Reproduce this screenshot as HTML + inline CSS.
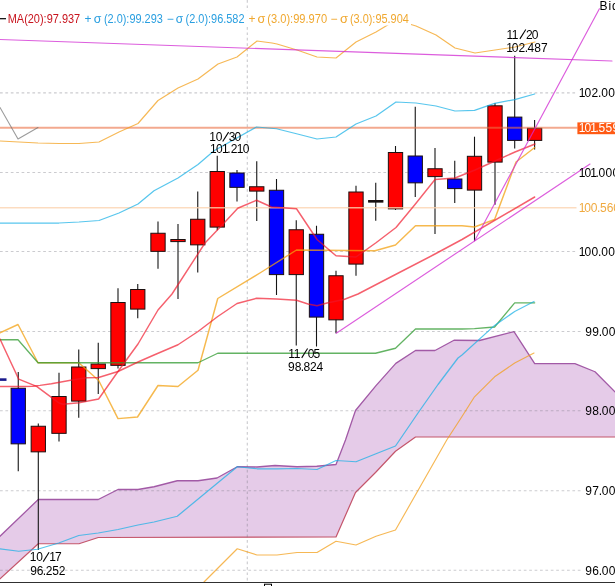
<!DOCTYPE html>
<html><head><meta charset="utf-8"><title>chart</title>
<style>
html,body{margin:0;padding:0;background:#fff;}
body{width:615px;height:586px;overflow:hidden;}
svg{display:block;will-change:transform;}
text{font-family:"Liberation Sans",sans-serif;font-size:12px;}
.ln{fill:none;stroke-linejoin:round;stroke-linecap:round;}
</style></head><body>
<svg width="615" height="586" viewBox="0 0 615 586">
<rect x="0" y="0" width="615" height="586" fill="#ffffff"/>
<polygon points="0.00,536.25 38.25,499.50 98.25,499.50 118.00,489.50 138.00,489.50 154.00,486.75 177.25,480.75 198.00,480.75 217.00,478.00 237.25,466.75 257.00,467.00 275.00,465.50 297.00,466.75 316.75,466.25 336.00,464.50 345.50,440.00 355.50,410.50 376.00,385.60 395.80,363.40 415.50,350.50 435.00,350.50 454.00,340.25 479.50,340.50 514.00,331.60 534.70,363.70 574.90,363.70 595.00,371.75 616.00,392.80 616.00,437.00 415.50,437.00 395.50,451.25 375.50,472.50 355.50,492.50 336.00,537.00 98.25,537.50 79.00,543.75 38.25,543.75 0.00,578.75" fill="#c58ccb" fill-opacity="0.45" stroke="none"/>
<polyline class="ln" points="0.00,578.75 38.25,543.75 79.00,543.75 98.25,537.50 336.00,537.00 355.50,492.50 375.50,472.50 395.50,451.25 415.50,437.00 616.00,437.00" stroke="#c4566b" stroke-width="1.2"/>
<polyline class="ln" points="0.00,536.25 38.25,499.50 98.25,499.50 118.00,489.50 138.00,489.50 154.00,486.75 177.25,480.75 198.00,480.75 217.00,478.00 237.25,466.75 257.00,467.00 275.00,465.50 297.00,466.75 316.75,466.25 336.00,464.50 345.50,440.00 355.50,410.50 376.00,385.60 395.80,363.40 415.50,350.50 435.00,350.50 454.00,340.25 479.50,340.50 514.00,331.60 534.70,363.70 574.90,363.70 595.00,371.75 616.00,392.80" stroke="#a25aa6" stroke-width="1.3"/>
<g stroke="#70707a" stroke-opacity="0.36" stroke-width="1.15" stroke-dasharray="2.7 2.7" fill="none">
<line x1="0" y1="92.8" x2="576.5" y2="92.8"/>
<line x1="0" y1="172.5" x2="576.5" y2="172.5"/>
<line x1="0" y1="251.5" x2="576.5" y2="251.5"/>
<line x1="0" y1="331.5" x2="581.5" y2="331.5"/>
<line x1="0" y1="410.75" x2="581.5" y2="410.75"/>
<line x1="0" y1="490.75" x2="581.5" y2="490.75"/>
<line x1="0" y1="570.25" x2="581.5" y2="570.25"/>
<line x1="247.3" y1="0" x2="247.3" y2="583"/>
</g>
<rect x="-9" y="378.3" width="15.5" height="2.6" fill="#1a1a8c"/>
<line x1="18.25" y1="372" x2="18.25" y2="471.25" stroke="#151515" stroke-width="1.1"/>
<rect x="11.10" y="388.25" width="14.30" height="55.60" fill="#0000ff" stroke="#1c1010" stroke-width="1"/>
<line x1="38.3" y1="423.5" x2="38.3" y2="550" stroke="#151515" stroke-width="1.1"/>
<rect x="31.15" y="426.25" width="14.30" height="25.60" fill="#ff0000" stroke="#1c1010" stroke-width="1"/>
<line x1="59" y1="372.75" x2="59" y2="441.5" stroke="#151515" stroke-width="1.1"/>
<rect x="51.85" y="396.50" width="14.30" height="36.85" fill="#ff0000" stroke="#1c1010" stroke-width="1"/>
<line x1="78.75" y1="349.5" x2="78.75" y2="417.75" stroke="#151515" stroke-width="1.1"/>
<rect x="71.60" y="367.00" width="14.30" height="34.10" fill="#ff0000" stroke="#1c1010" stroke-width="1"/>
<line x1="98.25" y1="342.75" x2="98.25" y2="394" stroke="#151515" stroke-width="1.1"/>
<rect x="91.10" y="364.00" width="14.30" height="4.60" fill="#ff0000" stroke="#1c1010" stroke-width="1"/>
<line x1="118" y1="288.25" x2="118" y2="368.5" stroke="#151515" stroke-width="1.1"/>
<rect x="110.85" y="302.50" width="14.30" height="62.85" fill="#ff0000" stroke="#1c1010" stroke-width="1"/>
<line x1="137.75" y1="284" x2="137.75" y2="318.25" stroke="#151515" stroke-width="1.1"/>
<rect x="130.60" y="289.50" width="14.30" height="19.60" fill="#ff0000" stroke="#1c1010" stroke-width="1"/>
<line x1="158" y1="221.5" x2="158" y2="268.75" stroke="#151515" stroke-width="1.1"/>
<rect x="150.85" y="233.25" width="14.30" height="18.10" fill="#ff0000" stroke="#1c1010" stroke-width="1"/>
<line x1="178" y1="224" x2="178" y2="299" stroke="#151515" stroke-width="1.1"/>
<rect x="170.85" y="239.50" width="14.30" height="2.10" fill="#ff0000" stroke="#1c1010" stroke-width="1"/>
<line x1="197.75" y1="191.5" x2="197.75" y2="272.5" stroke="#151515" stroke-width="1.1"/>
<rect x="190.60" y="219.25" width="14.30" height="25.60" fill="#ff0000" stroke="#1c1010" stroke-width="1"/>
<line x1="217.25" y1="155.75" x2="217.25" y2="230.25" stroke="#151515" stroke-width="1.1"/>
<rect x="210.10" y="171.50" width="14.30" height="55.60" fill="#ff0000" stroke="#1c1010" stroke-width="1"/>
<line x1="237" y1="170" x2="237" y2="201.5" stroke="#151515" stroke-width="1.1"/>
<rect x="229.85" y="173.00" width="14.30" height="14.35" fill="#0000ff" stroke="#1c1010" stroke-width="1"/>
<line x1="256.75" y1="161.25" x2="256.75" y2="221" stroke="#151515" stroke-width="1.1"/>
<rect x="249.60" y="186.75" width="14.30" height="4.35" fill="#ff0000" stroke="#1c1010" stroke-width="1"/>
<line x1="276.5" y1="179" x2="276.5" y2="295" stroke="#151515" stroke-width="1.1"/>
<rect x="269.35" y="190.25" width="14.30" height="84.35" fill="#0000ff" stroke="#1c1010" stroke-width="1"/>
<line x1="296.25" y1="220.25" x2="296.25" y2="345.4" stroke="#151515" stroke-width="1.1"/>
<rect x="289.10" y="229.75" width="14.30" height="44.85" fill="#ff0000" stroke="#1c1010" stroke-width="1"/>
<line x1="316.5" y1="225.75" x2="316.5" y2="346.5" stroke="#151515" stroke-width="1.1"/>
<rect x="309.35" y="234.25" width="14.30" height="82.85" fill="#0000ff" stroke="#1c1010" stroke-width="1"/>
<line x1="336" y1="270.75" x2="336" y2="333.25" stroke="#151515" stroke-width="1.1"/>
<rect x="328.85" y="275.75" width="14.30" height="44.10" fill="#ff0000" stroke="#1c1010" stroke-width="1"/>
<line x1="356" y1="185.75" x2="356" y2="275.75" stroke="#151515" stroke-width="1.1"/>
<rect x="348.85" y="192.00" width="14.30" height="72.10" fill="#ff0000" stroke="#1c1010" stroke-width="1"/>
<line x1="375.75" y1="182.75" x2="375.75" y2="220.75" stroke="#151515" stroke-width="1.1"/>
<rect x="368.60" y="200.50" width="14.30" height="1.60" fill="#101010" stroke="#1c1010" stroke-width="1"/>
<line x1="395.5" y1="146" x2="395.5" y2="210" stroke="#151515" stroke-width="1.1"/>
<rect x="388.35" y="152.50" width="14.30" height="56.35" fill="#ff0000" stroke="#1c1010" stroke-width="1"/>
<line x1="415.25" y1="106.75" x2="415.25" y2="197" stroke="#151515" stroke-width="1.1"/>
<rect x="408.10" y="156.00" width="14.30" height="26.85" fill="#0000ff" stroke="#1c1010" stroke-width="1"/>
<line x1="435" y1="148" x2="435" y2="234" stroke="#151515" stroke-width="1.1"/>
<rect x="427.85" y="168.75" width="14.30" height="7.85" fill="#ff0000" stroke="#1c1010" stroke-width="1"/>
<line x1="454.75" y1="160.75" x2="454.75" y2="203" stroke="#151515" stroke-width="1.1"/>
<rect x="447.60" y="179.00" width="14.30" height="9.60" fill="#0000ff" stroke="#1c1010" stroke-width="1"/>
<line x1="474.5" y1="136.7" x2="474.5" y2="241" stroke="#151515" stroke-width="1.1"/>
<rect x="467.35" y="156.30" width="14.30" height="33.80" fill="#ff0000" stroke="#1c1010" stroke-width="1"/>
<line x1="495" y1="103" x2="495" y2="204.7" stroke="#151515" stroke-width="1.1"/>
<rect x="487.85" y="105.80" width="14.30" height="56.30" fill="#ff0000" stroke="#1c1010" stroke-width="1"/>
<line x1="514.7" y1="55.7" x2="514.7" y2="148.5" stroke="#151515" stroke-width="1.1"/>
<rect x="507.55" y="117.10" width="14.30" height="23.30" fill="#0000ff" stroke="#1c1010" stroke-width="1"/>
<line x1="534.6" y1="120" x2="534.6" y2="149.6" stroke="#151515" stroke-width="1.1"/>
<rect x="527.45" y="128.30" width="14.30" height="12.10" fill="#ff0000" stroke="#1c1010" stroke-width="1"/>
<line x1="0" y1="207.75" x2="576.5" y2="207.75" stroke="#fbd3b0" stroke-opacity="0.8" stroke-width="1.3"/>
<line x1="0" y1="127.7" x2="577.5" y2="127.7" stroke="#eb7044" stroke-opacity="0.6" stroke-width="2"/>
<polyline class="ln" points="0.00,107.50 18.00,139.00 38.00,127.50" stroke="#707070" stroke-opacity="0.7" stroke-width="1.1"/>
<polyline class="ln" points="204.00,582.00 237.25,548.75 257.00,555.00 277.00,555.00 297.00,552.50 317.00,552.50 336.00,541.25 356.00,545.00 376.00,536.25 395.50,530.00 446.75,440.00 462.00,416.50 474.50,396.80 494.60,376.80 514.70,363.00 534.00,353.00" stroke="#f39c14" stroke-opacity="0.72" stroke-width="1.15"/>
<polyline class="ln" points="0.00,141.00 19.00,142.00 38.00,143.00 59.00,143.50 79.00,143.50 99.00,142.00 119.00,132.00 138.00,123.50 158.00,100.50 178.00,88.00 198.00,79.00 218.00,64.00 237.00,57.00 247.00,49.00 257.00,41.00 272.00,43.00 277.00,44.00 297.00,50.00 317.00,57.00 336.00,58.00 356.00,42.00 376.00,32.00 396.00,20.00 416.00,26.00 436.00,35.00 455.00,48.00 475.00,53.00 495.00,50.00 515.00,47.00 535.00,42.00" stroke="#f39c14" stroke-opacity="0.72" stroke-width="1.15"/>
<polyline class="ln" points="0.00,332.75 18.00,324.50 38.00,362.75 78.75,362.75 98.70,380.50 118.00,418.60 137.50,417.00 158.00,385.50 178.00,386.50 198.00,370.25 217.75,298.50 261.50,272.00 296.50,250.00 375.00,250.75 395.50,245.00 415.50,225.75 462.00,225.75 474.50,227.00 494.60,219.50 516.00,162.00 534.70,147.50" stroke="#f3a010" stroke-opacity="0.74" stroke-width="1.45"/>
<polyline class="ln" points="0.00,339.75 18.00,339.75 38.00,362.75 198.00,362.75 217.75,353.25 375.50,353.25 395.50,348.25 415.50,329.00 462.00,329.00 474.50,328.60 494.60,327.00 514.70,302.80 534.70,302.80" stroke="#2f9a2f" stroke-opacity="0.75" stroke-width="1.3"/>
<polyline class="ln" points="0.00,548.75 18.75,551.25 37.50,549.25 58.75,543.00 78.75,535.50 98.25,533.00 118.00,529.50 138.00,525.00 154.00,522.00 177.25,516.25 237.25,466.75 257.00,468.75 277.00,468.75 297.00,468.50 317.00,469.50 336.00,460.50 356.00,461.75 376.00,453.75 395.50,446.00 418.00,413.00 438.00,384.50 458.00,358.00 462.00,355.00 494.60,325.40 514.70,311.50 534.00,301.50" stroke="#18b0e6" stroke-opacity="0.72" stroke-width="1.25"/>
<polyline class="ln" points="0.00,223.00 59.00,223.00 79.00,222.00 99.00,220.50 119.00,213.00 138.00,204.00 154.00,190.75 178.00,178.00 198.00,164.50 214.00,150.75 256.50,127.00 276.50,128.75 296.50,133.75 317.00,139.00 336.00,137.00 356.00,124.00 376.00,116.00 396.00,102.00 416.00,103.00 436.00,106.00 455.00,111.00 474.50,110.40 494.60,103.30 514.70,99.60 534.70,94.00" stroke="#18b0e6" stroke-opacity="0.72" stroke-width="1.25"/>
<polyline class="ln" points="0.00,386.50 19.00,386.50 33.00,386.20 40.00,385.40 51.40,383.70 70.70,380.20 86.70,377.80 98.60,377.50 118.00,371.50 138.00,362.00 154.00,355.00 178.00,344.75 198.00,331.50 217.75,316.50 237.00,303.50 256.50,298.25 276.50,299.00 296.50,300.25 308.00,304.00 317.00,305.75 327.00,303.00 344.00,299.50 358.00,294.00 395.50,274.50 435.00,254.00 462.00,239.50 534.70,197.00" stroke="#f01428" stroke-opacity="0.68" stroke-width="1.45"/>
<polyline class="ln" points="0.00,339.00 9.75,360.00 18.70,379.10 36.60,386.40 51.40,397.30 59.00,403.00 63.00,404.30 79.00,402.70 98.60,399.00 118.00,371.50 138.00,344.00 158.00,310.00 172.00,294.00 205.00,243.00 225.00,222.00 237.75,208.25 256.50,200.25 271.50,207.00 296.50,208.75 317.00,239.50 336.00,255.75 356.00,257.00 376.00,242.75 396.00,227.50 415.00,204.50 435.00,179.50 455.00,178.00 475.00,170.00 495.00,161.00 515.00,152.00 535.00,144.00" stroke="#f01428" stroke-opacity="0.68" stroke-width="1.45"/>
<g stroke="#d230d4" stroke-opacity="0.78" stroke-width="1.15" fill="none" stroke-linecap="round">
<line x1="0" y1="39.5" x2="612" y2="61"/>
<line x1="474.5" y1="241" x2="599.4" y2="8.8"/>
<line x1="336.25" y1="333.25" x2="590" y2="164"/>
</g>
<text x="33.20" y="561.3" fill="#000" font-size="13" text-anchor="middle">1</text>
<text x="39.50" y="561.3" fill="#000" font-size="13" text-anchor="middle">0</text>
<text x="52.60" y="561.3" fill="#000" font-size="13" text-anchor="middle">1</text>
<text x="58.30" y="561.3" fill="#000" font-size="13" text-anchor="middle">7</text>
<line x1="43.20" y1="561.60" x2="49.10" y2="552.20" stroke="#000" stroke-width="1.05"/>
<text x="33.56 40.07 44.54 49.01 55.53 62.04" y="574.6" fill="#000" font-size="13" text-anchor="middle">96.252</text>
<text x="212.70" y="141.2" fill="#000" font-size="13" text-anchor="middle">1</text>
<text x="219.00" y="141.2" fill="#000" font-size="13" text-anchor="middle">0</text>
<text x="232.10" y="141.2" fill="#000" font-size="13" text-anchor="middle">3</text>
<text x="237.80" y="141.2" fill="#000" font-size="13" text-anchor="middle">0</text>
<line x1="222.70" y1="141.50" x2="228.60" y2="132.10" stroke="#000" stroke-width="1.05"/>
<text x="213.23 219.27 225.31 229.02 234.11 240.15 246.19" y="153.2" fill="#000" font-size="13" text-anchor="middle">101.210</text>
<text x="291.70" y="357.6" fill="#000" font-size="13" text-anchor="middle">1</text>
<text x="297.00" y="357.6" fill="#000" font-size="13" text-anchor="middle">1</text>
<text x="311.10" y="357.6" fill="#000" font-size="13" text-anchor="middle">0</text>
<text x="316.80" y="357.6" fill="#000" font-size="13" text-anchor="middle">5</text>
<line x1="301.70" y1="357.90" x2="307.60" y2="348.50" stroke="#000" stroke-width="1.05"/>
<text x="291.46 297.97 302.44 306.91 313.43 319.94" y="371.2" fill="#000" font-size="13" text-anchor="middle">98.824</text>
<text x="509.90" y="38.6" fill="#000" font-size="13" text-anchor="middle">1</text>
<text x="515.20" y="38.6" fill="#000" font-size="13" text-anchor="middle">1</text>
<text x="529.30" y="38.6" fill="#000" font-size="13" text-anchor="middle">2</text>
<text x="535.00" y="38.6" fill="#000" font-size="13" text-anchor="middle">0</text>
<line x1="519.90" y1="38.90" x2="525.80" y2="29.50" stroke="#000" stroke-width="1.05"/>
<text x="509.70 515.12 521.79 526.36 530.93 537.60 544.27" y="51.7" fill="#000" font-size="13" text-anchor="middle">102.487</text>
<text x="582.20 587.90 594.90 599.70 604.50 611.50 618.50" y="97.2" fill="#000" font-size="13" text-anchor="middle">102.000</text>
<text x="582.20 587.90 593.60 597.10 601.90 608.90 615.90" y="176.9" fill="#000" font-size="13" text-anchor="middle">101.000</text>
<text x="582.20 587.90 594.90 599.70 604.50 611.50 618.50" y="255.9" fill="#000" font-size="13" text-anchor="middle">100.000</text>
<text x="588.50 595.50 600.30 605.10 612.10 619.10" y="335.9" fill="#000" font-size="13" text-anchor="middle">99.000</text>
<text x="588.50 595.50 600.30 605.10 612.10 619.10" y="415.15" fill="#000" font-size="13" text-anchor="middle">98.000</text>
<text x="588.50 595.50 600.30 605.10 612.10 619.10" y="495.15" fill="#000" font-size="13" text-anchor="middle">97.000</text>
<text x="588.50 595.50 600.30 605.10 612.10 619.10" y="574.65" fill="#000" font-size="13" text-anchor="middle">96.000</text>
<text x="582.10 587.52 594.19 598.76 603.33 610.00 616.67" y="212.1" fill="#f0aa40" font-size="13" text-anchor="middle">100.560</text>
<rect x="577.4" y="122.4" width="40" height="11.8" fill="#ff5a14"/>
<text x="582.20 587.90 593.60 597.10 601.90 608.90 615.90" y="132.4" fill="#ffffff" font-size="13" text-anchor="middle">101.559</text>
<text x="599.60" y="10.2" fill="#000" font-size="13" letter-spacing="0.9">Bid</text>
<rect x="0" y="10.5" width="411" height="15" fill="#ffffff"/>
<line x1="0" y1="18.7" x2="6" y2="18.7" stroke="#000" stroke-width="1.2"/>
<text x="7.70" y="23.2" fill="#c8141e" textLength="72.50" lengthAdjust="spacingAndGlyphs" font-size="12.6">MA(20):97.937</text>
<text x="84.60" y="23.2" fill="#2a9fe0" font-size="12.6">+</text>
<text x="93.70" y="23.2" fill="#2a9fe0" textLength="7.60" lengthAdjust="spacingAndGlyphs" font-size="12.6">σ</text>
<text x="103.90" y="23.2" fill="#2a9fe0" textLength="58.90" lengthAdjust="spacingAndGlyphs" font-size="12.6">(2.0):99.293</text>
<text x="166.70" y="23.2" fill="#2a9fe0" font-size="12.6">−</text>
<text x="175.70" y="23.2" fill="#2a9fe0" textLength="7.40" lengthAdjust="spacingAndGlyphs" font-size="12.6">σ</text>
<text x="185.60" y="23.2" fill="#2a9fe0" textLength="58.90" lengthAdjust="spacingAndGlyphs" font-size="12.6">(2.0):96.582</text>
<text x="248.40" y="23.2" fill="#f0a830" font-size="12.6">+</text>
<text x="257.40" y="23.2" fill="#f0a830" textLength="7.80" lengthAdjust="spacingAndGlyphs" font-size="12.6">σ</text>
<text x="267.30" y="23.2" fill="#f0a830" textLength="59.80" lengthAdjust="spacingAndGlyphs" font-size="12.6">(3.0):99.970</text>
<text x="330.60" y="23.2" fill="#f0a830" font-size="12.6">−</text>
<text x="340.10" y="23.2" fill="#f0a830" textLength="8.00" lengthAdjust="spacingAndGlyphs" font-size="12.6">σ</text>
<text x="349.90" y="23.2" fill="#f0a830" textLength="58.90" lengthAdjust="spacingAndGlyphs" font-size="12.6">(3.0):95.904</text>
<line x1="0" y1="582.5" x2="615" y2="582.5" stroke="#303030" stroke-width="1.2"/>
<rect x="264.5" y="584.2" width="7" height="6" fill="#fff" stroke="#000" stroke-width="1"/>
</svg>
</body></html>
